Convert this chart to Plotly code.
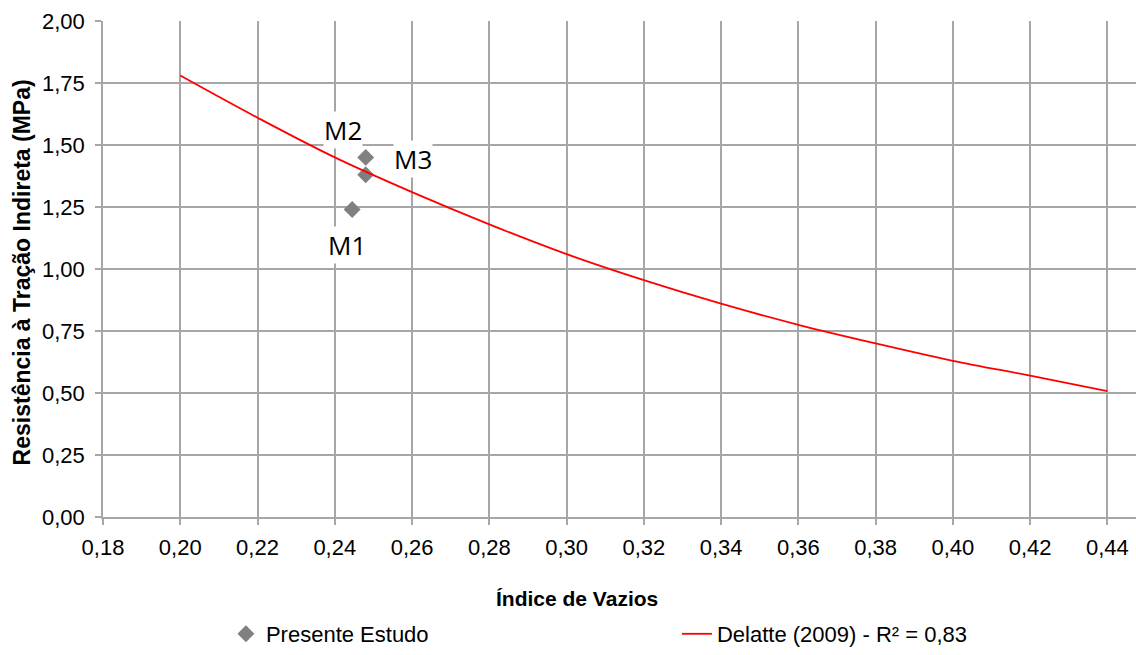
import plotly.graph_objects as go

# Data
pts_x = [0.2445, 0.248, 0.248]
pts_y = [1.24, 1.38, 1.45]
pts_labels = ["M1", "M2", "M3"]

curve_x = [0.20, 0.22, 0.24, 0.26, 0.28, 0.30, 0.32, 0.34, 0.36, 0.38, 0.40, 0.42, 0.44]
curve_y = [1.78, 1.61, 1.45, 1.31, 1.18, 1.06, 0.955, 0.86, 0.775, 0.70, 0.63, 0.57, 0.508]

x_ticks = [0.18, 0.20, 0.22, 0.24, 0.26, 0.28, 0.30, 0.32, 0.34, 0.36, 0.38, 0.40, 0.42, 0.44]
y_ticks = [0.00, 0.25, 0.50, 0.75, 1.00, 1.25, 1.50, 1.75, 2.00]

# label offsets (px) for the point labels
label_offsets = {"M1": (-5, 36), "M2": (-23, -45), "M3": (47, 2)}

GRID = "#A6A6A6"
FONT = "Liberation Sans, Arial, sans-serif"

fig = go.Figure()
fig.add_trace(go.Scatter(
    x=pts_x, y=pts_y, mode="markers", name="Presente Estudo",
    marker=dict(symbol="diamond", size=13, color="#808080"),
))
fig.add_trace(go.Scatter(
    x=curve_x, y=curve_y, mode="lines", name="Delatte (2009) - R² = 0,83",
    line=dict(color="#FF0000", width=1.8, shape="spline"),
))

for lx, ly, lab in zip(pts_x, pts_y, pts_labels):
    ax, ay = label_offsets[lab]
    fig.add_annotation(
        x=lx, y=ly, text=lab, showarrow=True, arrowcolor="rgba(0,0,0,0)",
        ax=ax, ay=ay, bgcolor="white",
        font=dict(family="Open Sans, sans-serif", size=26, color="black"),
        borderpad=0,
    )

fig.add_annotation(
    xref="paper", yref="paper", x=-0.078, y=0.494,
    xanchor="center", yanchor="middle",
    text="<b>Resistência à Tração Indireta (MPa)</b>",
    textangle=-90, showarrow=False, font=dict(family=FONT, size=23, color="black"),
)
fig.add_annotation(
    xref="paper", yref="paper", x=0.459, y=-0.165,
    xanchor="center", yanchor="middle",
    text="<b>Índice de Vazios</b>",
    showarrow=False, font=dict(family=FONT, size=21, color="black"),
)

fig.update_layout(
    width=1136, height=655,
    margin=dict(l=103, r=0, t=21, b=132),
    paper_bgcolor="white", plot_bgcolor="white",
    separators=", ",
    font=dict(family=FONT, size=22, color="black"),
    showlegend=True,
    legend=dict(
        orientation="h", x=0.119, y=-0.236, xanchor="left", yanchor="middle",
        entrywidth=406, entrywidthmode="pixels",
        font=dict(family=FONT, size=22, color="black"),
        bgcolor="rgba(0,0,0,0)",
    ),
    xaxis=dict(
        range=[0.18, 0.4474], tickvals=x_ticks, tickformat=".2f",
        showgrid=True, gridcolor=GRID, gridwidth=1.5,
        showline=True, linecolor=GRID, linewidth=1.5,
        ticks="outside", ticklen=6, tickcolor=GRID, tickwidth=1.5,
        zeroline=False, tickfont=dict(size=22), ticklabelstandoff=4,
    ),
    yaxis=dict(
        range=[0, 2.0], tickvals=y_ticks, tickformat=".2f",
        showgrid=True, gridcolor=GRID, gridwidth=1.5,
        showline=True, linecolor=GRID, linewidth=1.5,
        ticks="outside", ticklen=6, tickcolor=GRID, tickwidth=1.5,
        zeroline=False, tickfont=dict(size=22), ticklabelstandoff=6,
    ),
)

fig.write_html("out.html", config={"displayModeBar": False},
               post_script="document.body.style.margin='0';")
